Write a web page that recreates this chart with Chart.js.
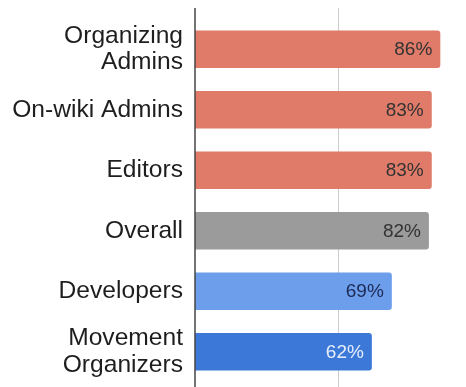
<!DOCTYPE html>
<html>
<head>
<meta charset="utf-8">
<script src="https://cdn.jsdelivr.net/npm/chart.js@4/dist/chart.umd.min.js"></script>
<style>
  html, body { margin: 0; padding: 0; background: #fff; }
  #wrap { width: 466px; height: 387px; }
</style>
</head>
<body>
<div id="wrap"><canvas id="bar-chart" width="466" height="387"></canvas></div>
<script>
const groups = [
  ['Organizing', 'Admins'],
  'On-wiki Admins',
  'Editors',
  'Overall',
  'Developers',
  ['Movement', 'Organizers']
];
const shares = [86, 83, 83, 82, 69, 62];
const barColors = ['#df7b68', '#df7b68', '#df7b68', '#9b9b9b', '#6d9eeb', '#3c78d8'];
const labelColors = ['#333333', '#333333', '#333333', '#333333', '#1b2a55', '#e6eefb'];
const gridValues = [50];

// value labels inside the bar ends + axis line / gridline spanning the full height
const barLabels = {
  id: 'barLabels',
  beforeDatasetsDraw(chart) {
    const ctx = chart.ctx;
    const x = chart.scales.x;
    ctx.save();
    ctx.lineWidth = 1;
    ctx.strokeStyle = '#cccccc';
    gridValues.forEach(v => {
      const px = Math.round(x.getPixelForValue(v)) + 0.5;
      ctx.beginPath();
      ctx.moveTo(px, 8);
      ctx.lineTo(px, chart.height);
      ctx.stroke();
    });
    ctx.restore();
  },
  afterDatasetsDraw(chart) {
    const ctx = chart.ctx;
    const x = chart.scales.x;
    ctx.save();
    ctx.lineWidth = 1.5;
    ctx.strokeStyle = '#444444';
    const px0 = x.getPixelForValue(0);
    ctx.beginPath();
    ctx.moveTo(px0, 8);
    ctx.lineTo(px0, chart.height);
    ctx.stroke();

    ctx.font = '19px "Liberation Sans", Arial, sans-serif';
    ctx.textAlign = 'right';
    ctx.textBaseline = 'middle';
    chart.getDatasetMeta(0).data.forEach((bar, i) => {
      ctx.fillStyle = labelColors[i];
      ctx.fillText(shares[i] + '%', bar.x - 8, bar.y + 1);
    });
    ctx.restore();
  }
};

new Chart(document.getElementById('bar-chart'), {
  type: 'bar',
  data: {
    labels: groups,
    datasets: [{
      data: shares,
      backgroundColor: barColors,
      borderRadius: 3,
      borderSkipped: 'start',
      categoryPercentage: 1,
      barPercentage: 0.62
    }]
  },
  options: {
    indexAxis: 'y',
    responsive: false,
    animation: false,
    layout: { autoPadding: false, padding: { top: 19, bottom: 5, left: 0, right: 0 } },
    plugins: {
      legend: { display: false },
      tooltip: { enabled: false }
    },
    scales: {
      x: {
        display: false,
        min: 0,
        max: 95
      },
      y: {
        afterFit: s => {
          s.width = 195;
          s.paddingTop = 0;
          s.paddingBottom = 0;
        },
        border: { display: false },
        grid: { display: false, drawTicks: false },
        ticks: {
          padding: 12,
          color: '#1e1e1e',
          font: { family: '"Liberation Sans", Arial, sans-serif', size: 24.6, lineHeight: 1.06 }
        }
      }
    }
  },
  plugins: [barLabels]
});
</script>
</body>
</html>
